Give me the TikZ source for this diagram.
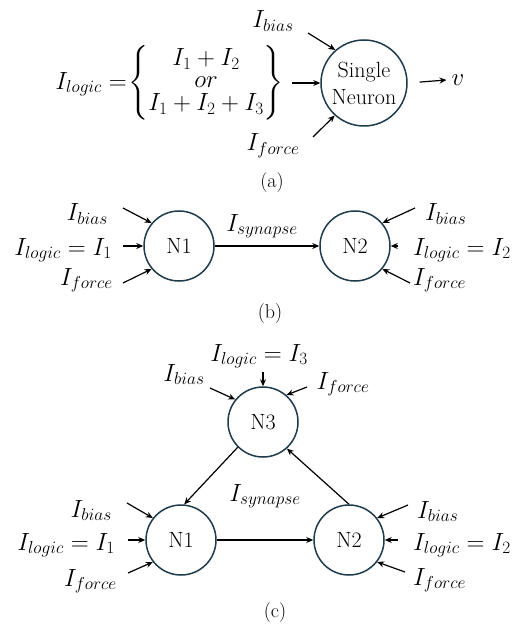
\documentclass[tikz,border=0pt]{standalone}
\usepackage{amsmath}
\usepackage{xcolor}
\usepackage{tikz}
\usetikzlibrary{arrows.meta, positioning}
\definecolor{rim}{HTML}{1F3B4C}
\DeclareMathSizes{22}{26}{18}{13}

\begin{document}
\begin{tikzpicture}[
    x=1pt, y=-1pt,
    font=\fontsize{22}{27}\selectfont,
    neuron/.style={circle, draw=rim, line width=1.5pt, minimum size=70pt, inner sep=0pt, align=center},
    lbl/.style={inner sep=0pt},
    arrow/.style={-{Stealth[length=7pt, width=6pt]}, line width=1.2pt},
    panel/.style={font=\fontsize{20}{24}\selectfont},
]
    \useasboundingbox (0,0) rectangle (523,628);

    % (a) Single neuron
    \node[neuron, minimum size=86pt] (sn) at (364,83) {Single\\Neuron};
    \node[lbl, anchor=east] (eq) at (284,83) {$I_{logic}=\mkern-4mu\left\{\renewcommand{\arraystretch}{0.8}\begin{matrix}I_1+I_2\\ or\\ I_1+I_2+I_3\end{matrix}\right\}$};
    \node[lbl, anchor=base] (abias) at (273,28) {$I_{bias}$};
    \node[lbl, anchor=base] (aforce) at (273,151) {$I_{force}$};
    \node[inner sep=5pt] (v) at (458,80) {$v$};
    \coordinate (abias0) at (308,33);
    \coordinate (aforce0) at (313,137);
    \draw[arrow] (abias0) -- (sn.131);
    \draw[arrow] (aforce0) -- (sn.228);
    \draw[arrow, shorten <=8pt] (eq.east) -- (sn.west);
    \draw[arrow, shorten <=12pt] (sn.east) -- (v.west);
    \node[panel] (capa) at (272,183) {(a)};

    % (b) Two neurons
    \node[neuron] (b1) at (179,246) {N1};
    \node[neuron] (b2) at (355,246) {N2};
    \node[lbl, anchor=base] (bsyn) at (262,231) {$I_{synapse}$};
    \draw[arrow] (b1) -- (b2);
    \node[lbl, anchor=base east] (b1bias) at (108,221) {$I_{bias}$};
    \node[lbl, anchor=base east] (b1logic) at (112,255) {$I_{logic}=I_1$};
    \node[lbl, anchor=base east] (b1force) at (113,285) {$I_{force}$};
    \node[lbl, anchor=base west] (b2bias) at (425,221) {$I_{bias}$};
    \node[lbl, anchor=base west] (b2logic) at (413,255) {$I_{logic}=I_2$};
    \node[lbl, anchor=base west] (b2force) at (413,285) {$I_{force}$};
    \coordinate (b1bias0) at (123,208);
    \coordinate (b1logic0) at (123,246);
    \coordinate (b1force0) at (123,283);
    \coordinate (b2bias0) at (415,208);
    \coordinate (b2logic0) at (398,246);
    \coordinate (b2force0) at (410,283);
    \draw[arrow] (b1bias0) -- (b1.140);
    \draw[arrow] (b1logic0) -- (b1.west);
    \draw[arrow] (b1force0) -- (b1.220);
    \draw[arrow] (b2bias0) -- (b2.40);
    \draw[arrow] (b2logic0) -- (b2.east);
    \draw[arrow] (b2force0) -- (b2.-40);
    \node[panel] (capb) at (270,314) {(b)};

    % (c) Three neurons
    \node[neuron] (n3) at (263,422) {N3};
    \node[neuron] (c1) at (181,540) {N1};
    \node[neuron] (c2) at (349,540) {N2};
    \node[lbl, anchor=base] (csyn) at (265,501) {$I_{synapse}$};
    \draw[arrow] (c1) -- (c2);
    \draw[arrow] (n3.225) -- (c1.85);
    \draw[arrow] (c2.north) -- (n3.-48);
    \node[lbl, anchor=base] (n3logic) at (259,361) {$I_{logic}=I_3$};
    \node[lbl, anchor=base] (n3bias) at (184,381) {$I_{bias}$};
    \node[lbl, anchor=base] (n3force) at (343,389) {$I_{force}$};
    \coordinate (n3logic0) at (263,372);
    \coordinate (n3bias0) at (210,388);
    \coordinate (n3force0) at (307,387);
    \draw[arrow] (n3logic0) -- (n3.north);
    \draw[arrow] (n3bias0) -- (n3.141);
    \draw[arrow] (n3force0) -- (n3.49);
    \node[lbl, anchor=base east] (c1bias) at (112,517) {$I_{bias}$};
    \node[lbl, anchor=base east] (c1logic) at (115,550) {$I_{logic}=I_1$};
    \node[lbl, anchor=base east] (c1force) at (117,586) {$I_{force}$};
    \node[lbl, anchor=base west] (c2bias) at (417,518) {$I_{bias}$};
    \node[lbl, anchor=base west] (c2logic) at (413,550) {$I_{logic}=I_2$};
    \node[lbl, anchor=base west] (c2force) at (413,585) {$I_{force}$};
    \coordinate (c1bias0) at (127,503);
    \coordinate (c1logic0) at (128,540);
    \coordinate (c1force0) at (128,573);
    \coordinate (c2bias0) at (408,505);
    \coordinate (c2logic0) at (398,540);
    \coordinate (c2force0) at (405,572);
    \draw[arrow] (c1bias0) -- (c1.142);
    \draw[arrow] (c1logic0) -- (c1.west);
    \draw[arrow] (c1force0) -- (c1.218);
    \draw[arrow] (c2bias0) -- (c2.38);
    \draw[arrow] (c2logic0) -- (c2.east);
    \draw[arrow] (c2force0) -- (c2.-38);
    \node[panel] (capc) at (275,613) {(c)};
\end{tikzpicture}
\end{document}
